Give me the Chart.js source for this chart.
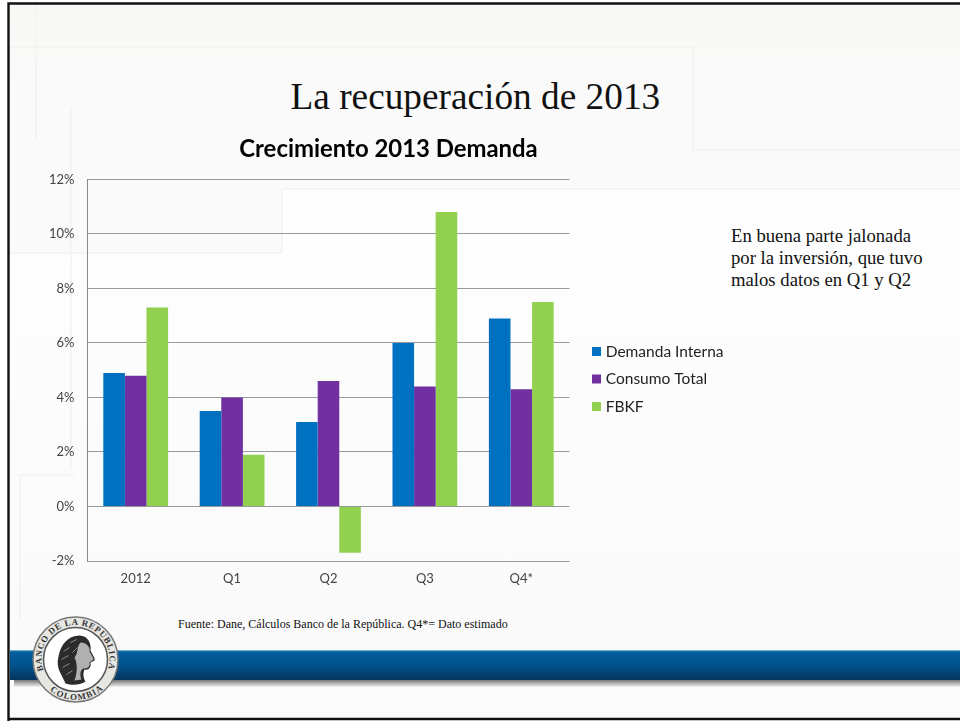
<!DOCTYPE html>
<html lang="es"><head><meta charset="utf-8">
<style>
html,body{margin:0;padding:0;background:#fff;overflow:hidden}
#slide{position:absolute;left:0;top:0;width:960px;height:721px;overflow:hidden;background:#fff}
#bg{position:absolute;left:0;top:0}
#wrap{position:absolute;left:39px;top:125px;width:700px;height:470px}
.s{position:absolute;font-family:"Liberation Serif",serif;color:#111;white-space:nowrap}
</style></head><body>
<div id="slide">
<svg id="bg" width="960" height="721" xmlns="http://www.w3.org/2000/svg">
<defs>
<linearGradient id="sky" x1="0" y1="0" x2="0" y2="1"><stop offset="0" stop-color="#f8f8f5"/><stop offset="0.12" stop-color="#fafafa"/><stop offset="1" stop-color="#fbfbfb"/></linearGradient>
<linearGradient id="band" x1="0" y1="0" x2="0" y2="1"><stop offset="0" stop-color="#03609f"/><stop offset="0.5" stop-color="#02528c"/><stop offset="1" stop-color="#03355f"/></linearGradient>
<linearGradient id="shade" x1="0" y1="0" x2="0" y2="1"><stop offset="0" stop-color="#777"/><stop offset="1" stop-color="#f2f2f0"/></linearGradient>
<linearGradient id="low" x1="0" y1="0" x2="0" y2="1"><stop offset="0" stop-color="#fefefe"/><stop offset="1" stop-color="#fafafa"/></linearGradient>
</defs>
<rect x="8" y="3" width="952" height="716" fill="url(#sky)"/>
<path d="M282 189H960V650H8V253H282Z" fill="url(#low)"/>
<g fill="none" stroke="#f2f2f1" stroke-width="1.5">
<path d="M8 47H693V150H960"/>
<path d="M8 253H282V189H960"/>
<path d="M36 5V140"/>
<path d="M71 107V470"/>
<path d="M20 620V475H75"/>
</g>
<rect x="10" y="651" width="950" height="29" fill="url(#band)"/>
<rect x="10" y="650" width="950" height="1.2" fill="#6fb0cf"/>
<rect x="14" y="680" width="946" height="7" fill="url(#shade)"/>
<path d="M8.5 721V3.5H960M8 719H960" fill="none" stroke="#111" stroke-width="2.4"/>
<g transform="translate(75.5,659.5)">
<circle r="42.5" fill="#e6e6e2" stroke="#777" stroke-width="1.5"/>
<circle r="32" fill="#fff" stroke="#555" stroke-width="1.5"/>
<defs><path id="arcT" d="M-32 11A34 34 0 1 1 32 11"/><path id="arcB" d="M-28 29A40 40 0 0 0 28 29"/></defs>
<text font-family="Liberation Serif" font-weight="700" font-size="8.8" fill="#333"><textPath href="#arcT" textLength="128" lengthAdjust="spacing">BANCO DE LA REPUBLICA</textPath></text>
<text font-family="Liberation Serif" font-weight="700" font-size="8.8" fill="#333"><textPath href="#arcB" startOffset="3" textLength="58" lengthAdjust="spacing">COLOMBIA</textPath></text>
<path d="M-10 24C-14 14 -20 9 -17 -3C-15 -15 -7 -24 4 -24C13 -24 16 -15 15 -9C17 -5 20 -1 19 1L15 3C16 8 13 11 9 10C7 14 8 19 10 22C4 26 -4 26 -10 24Z" fill="#2b2b2b"/>
<path d="M5 -17C12 -17 15 -11 14 -8C16 -5 18 -1 18 0L14 3C15 7 12 9 8 9C5 10 4 15 6 20L-1 21C2 12 2 4 -1 -2C3 -6 1 -13 5 -17Z" fill="#b0b0b0"/>
<g fill="none" stroke="#8d8d8d" stroke-width="1"><path d="M-12 -8L-6 -12M-14 0L-7 -4M-13 8L-6 4M-9 15L-3 11M-5 -17L1 -20M-3 -7L2 -12"/></g>
</g>
</svg>
<div class="s" style="left:290.5px;top:76px;font-size:37.3px;line-height:42px">La recuperación de 2013</div>
<div class="s" style="left:731px;top:224.5px;font-size:18.7px;line-height:22px">En buena parte jalonada<br>por la inversión, que tuvo<br>malos datos en Q1 y Q2</div>
<div class="s" style="left:178px;top:617px;font-size:12px;line-height:14px">Fuente: Dane, Cálculos Banco de la República. Q4*= Dato estimado</div>
<div id="wrap"><canvas id="c" width="700" height="470"></canvas></div>
</div>
<script src="https://cdn.jsdelivr.net/npm/chart.js@4/dist/chart.umd.min.js"></script>
<script>
const categories = ["2012", "Q1", "Q2", "Q3", "Q4*"];
const demandaInterna = [4.9, 3.5, 3.1, 6.0, 6.9];
const consumoTotal = [4.8, 4.0, 4.6, 4.4, 4.3];
const fbkf = [7.3, 1.9, -1.7, 10.8, 7.5];
const chartTitle = "Crecimiento 2013 Demanda";
const sans = "Lato, 'Open Sans', sans-serif";
const moveBlocks = {
  id: "moveBlocks",
  afterLayout(chart) {
    const l = chart.legend, w = l.right - l.left, t = chart.titleBlock;
    l.left = 544; l.right = l.left + w;
    l.top += 19; l.bottom += 19;
    t.left += 9; t.right += 9;
  }
};
new Chart(document.getElementById("c"), {
  type: "bar",
  data: {
    labels: categories,
    datasets: [
      { label: "Demanda Interna", data: demandaInterna, backgroundColor: "#0070c0" },
      { label: "Consumo Total", data: consumoTotal, backgroundColor: "#7030a0" },
      { label: "FBKF", data: fbkf, backgroundColor: "#92d050" }
    ]
  },
  options: {
    responsive: false,
    animation: false,
    events: [],
    layout: { padding: { left: 0, right: 19, top: 0, bottom: 0 } },
    datasets: { bar: { barPercentage: 1, categoryPercentage: 0.672 } },
    plugins: {
      tooltip: { enabled: false },
      title: { display: true, text: chartTitle, color: "#000", align: "center",
        font: { family: sans, size: 23.9, weight: "bold" }, padding: { top: 9.5, bottom: 16.2 } },
      legend: { position: "right", align: "center",
        labels: { boxWidth: 3, boxHeight: 3, padding: 12, color: "#222", font: { family: sans, size: 15.5 },
          generateLabels(chart) {
            return Chart.defaults.plugins.legend.labels.generateLabels(chart).map(i => ({
              ...i, strokeStyle: i.fillStyle, lineWidth: 6, lineJoin: "miter"
            }));
          } } }
    },
    scales: {
      x: { grid: { display: false, drawTicks: false }, border: { display: false },
        ticks: { color: "#444", padding: 10, maxRotation: 0, font: { family: sans, size: 13 } },
        afterFit(s) { s.height = 34; } },
      y: { min: -2, max: 12, grid: { color: "#9a9a9a", lineWidth: 1, drawTicks: false },
        border: { display: true, color: "#8a8a8a" },
        afterFit(s) { s.width = 48.5; },
        ticks: { stepSize: 2, color: "#444", padding: 13, font: { family: sans, size: 13 },
          callback: v => v + "%" } }
    }
  },
  plugins: [moveBlocks]
});
</script>
</body></html>
